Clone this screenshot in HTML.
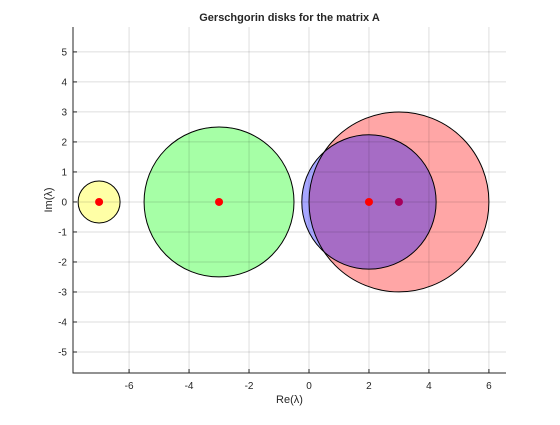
<!DOCTYPE html>
<html><head><meta charset="utf-8"><style>
body{margin:0;background:#fff;width:560px;height:420px;overflow:hidden}
text{font-family:"Liberation Sans",sans-serif;fill:#262626}
</style></head><body>
<svg id="chart" width="560" height="420" xmlns="http://www.w3.org/2000/svg"></svg>
<script>
const xTicks=[-6,-4,-2,0,2,4,6];
const yTicks=[-5,-4,-3,-2,-1,0,1,2,3,4,5];
const diskCenters=[-7,-3,3,2];
const diskRadii=[0.7,2.5,3,2.24];
const diskFills=['#ffffa6','#a6ffa6','rgba(255,0,0,0.35)','rgba(0,0,255,0.35)'];
const diskNames=['disk-yellow','disk-green','disk-red','disk-blue'];
const eigRe=[-7,-3,2,3];
const eigColors=['#ff0000','#ff0000','#ff0000','#a6005a'];
const L=73,R=506,T=27,B=373,xmin=-7.87,xmax=6.57,ymin=-5.7,ymax=5.83;
const sx=v=>L+(v-xmin)/(xmax-xmin)*(R-L);
const sy=v=>B-(v-ymin)/(ymax-ymin)*(B-T);
const ppu=(R-L)/(xmax-xmin);
const svg=document.getElementById('chart');
const NS='http://www.w3.org/2000/svg';
function mk(tag,attrs,parent){const e=document.createElementNS(NS,tag);for(const k in attrs)e.setAttribute(k,attrs[k]);(parent||svg).appendChild(e);return e;}
diskCenters.forEach((c,i)=>{const e=mk('circle',{cx:sx(c),cy:sy(0),r:diskRadii[i]*ppu,fill:diskFills[i],stroke:'none'});

});
const grid=mk('g',{});


xTicks.forEach(t=>{const l=mk('line',{x1:sx(t),x2:sx(t),y1:T,y2:B,stroke:'rgba(0,0,0,0.13)','stroke-width':1},grid);

});
yTicks.forEach(t=>{const l=mk('line',{x1:L,x2:R,y1:sy(t),y2:sy(t),stroke:'rgba(0,0,0,0.13)','stroke-width':1},grid);

});
diskCenters.forEach((c,i)=>{const e=mk('circle',{cx:sx(c),cy:sy(0),r:diskRadii[i]*ppu,fill:'none',stroke:'#000','stroke-width':1});

});
eigRe.forEach((v,i)=>{const e=mk('circle',{cx:sx(v),cy:sy(0),r:4,fill:eigColors[i]});

});
const ax=mk('path',{d:`M${L},${T}V${B}H${R}`,fill:'none',stroke:'#262626','stroke-width':1});


xTicks.forEach(t=>{mk('line',{x1:sx(t),x2:sx(t),y1:B,y2:B-4,stroke:'#262626'});
const tx=mk('text',{x:sx(t),y:B+16,'text-anchor':'middle','font-size':10});tx.textContent=t;

});
yTicks.forEach(t=>{mk('line',{x1:L,x2:L+4,y1:sy(t),y2:sy(t),stroke:'#262626'});
const tx=mk('text',{x:L-6,y:sy(t)+3.5,'text-anchor':'end','font-size':10});tx.textContent=t;

});
const ti=mk('text',{x:(L+R)/2,y:21,'text-anchor':'middle','font-size':11,'font-weight':'bold'});ti.textContent='Gerschgorin disks for the matrix A';


const xl=mk('text',{x:(L+R)/2,y:403,'text-anchor':'middle','font-size':11});xl.textContent='Re(λ)';


const yl=mk('text',{x:0,y:0,'text-anchor':'middle','font-size':11,transform:`translate(52,${(T+B)/2}) rotate(-90)`});yl.textContent='Im(λ)';


</script>
</body></html>
